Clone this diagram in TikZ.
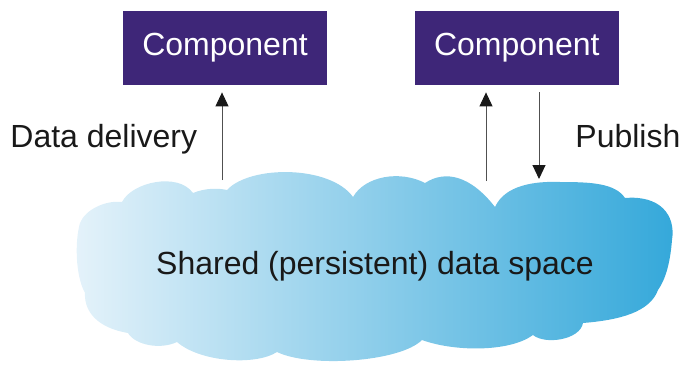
\documentclass[tikz,border=0pt]{standalone}
\usepackage{fontspec}
\setmainfont{Liberation Sans}
\usetikzlibrary{positioning, arrows.meta}
\definecolor{comppurple}{RGB}{62,38,120}
\definecolor{cloudlight}{RGB}{228,242,250}
\definecolor{clouddark}{RGB}{52,168,218}
\definecolor{arrowgrey}{RGB}{80,80,80}

\begin{document}
\begin{tikzpicture}[x=1pt, y=-1pt, thick, font=\fontsize{32}{38}\selectfont]
                \tikzstyle{comp} = [rectangle, fill=comppurple, text=white, minimum width=204pt, minimum height=74pt, inner sep=0pt]
                \tikzstyle{label} = [anchor=base west, inner sep=0pt, text=black!90]
                \tikzstyle{flow} = [draw=arrowgrey, line width=1pt, -{Triangle[width=13pt, length=14pt, color=black!90]}]

                \useasboundingbox (0,0) rectangle (682,364);

                % Shared data space (cloud, light to dark blue)
                \path[left color=cloudlight, right color=clouddark]
                    (80,223) .. controls (85,210) and (105,200) .. (122,202)
                    .. controls (132,182) and (178,172) .. (193,193)
                    .. controls (205,188) and (218,188) .. (227,190)
                    .. controls (250,165) and (330,165) .. (353,197)
                    .. controls (365,176) and (400,170) .. (425,183)
                    .. controls (445,170) and (470,175) .. (495,207)
                    .. controls (505,185) and (535,181) .. (560,182)
                    .. controls (590,182) and (615,183) .. (625,198)
                    .. controls (660,195) and (676,215) .. (672,240)
                    .. controls (670,265) and (665,280) .. (658,290)
                    .. controls (650,312) and (620,320) .. (583,323)
                    .. controls (580,340) and (545,345) .. (533,335)
                    .. controls (510,352) and (455,352) .. (422,340)
                    .. controls (400,362) and (310,368) .. (277,352)
                    .. controls (255,366) and (200,362) .. (177,342)
                    .. controls (160,350) and (135,345) .. (128,333)
                    .. controls (98,328) and (84,312) .. (85,293)
                    .. controls (75,275) and (75,240) .. (80,223) -- cycle;
                \node[text=black!90] (space) at (375,266) {Shared (persistent) data space};

                % Component boxes (top row)
                \node[comp] (comp1) at (225,48) {Component};
                \node[comp] (comp2) [right=87pt of comp1] {Component};

                % Points on the top of the cloud
                \coordinate (deliver) at (222,180);
                \coordinate (back) at (486,181);
                \coordinate (pub) at (539,179);

                % Labels
                \node[label] (delivery) at (10,147) {Data delivery};
                \node[label] (publish) at (575,147) {Publish};

                \draw[flow, shorten >=7pt] (deliver) -- (deliver |- comp1.south);
                \draw[flow, shorten >=7pt] (back) -- (back |- comp2.south);
                \draw[flow, shorten <=7pt] (pub |- comp2.south) -- (pub);
            \end{tikzpicture}
\end{document}
